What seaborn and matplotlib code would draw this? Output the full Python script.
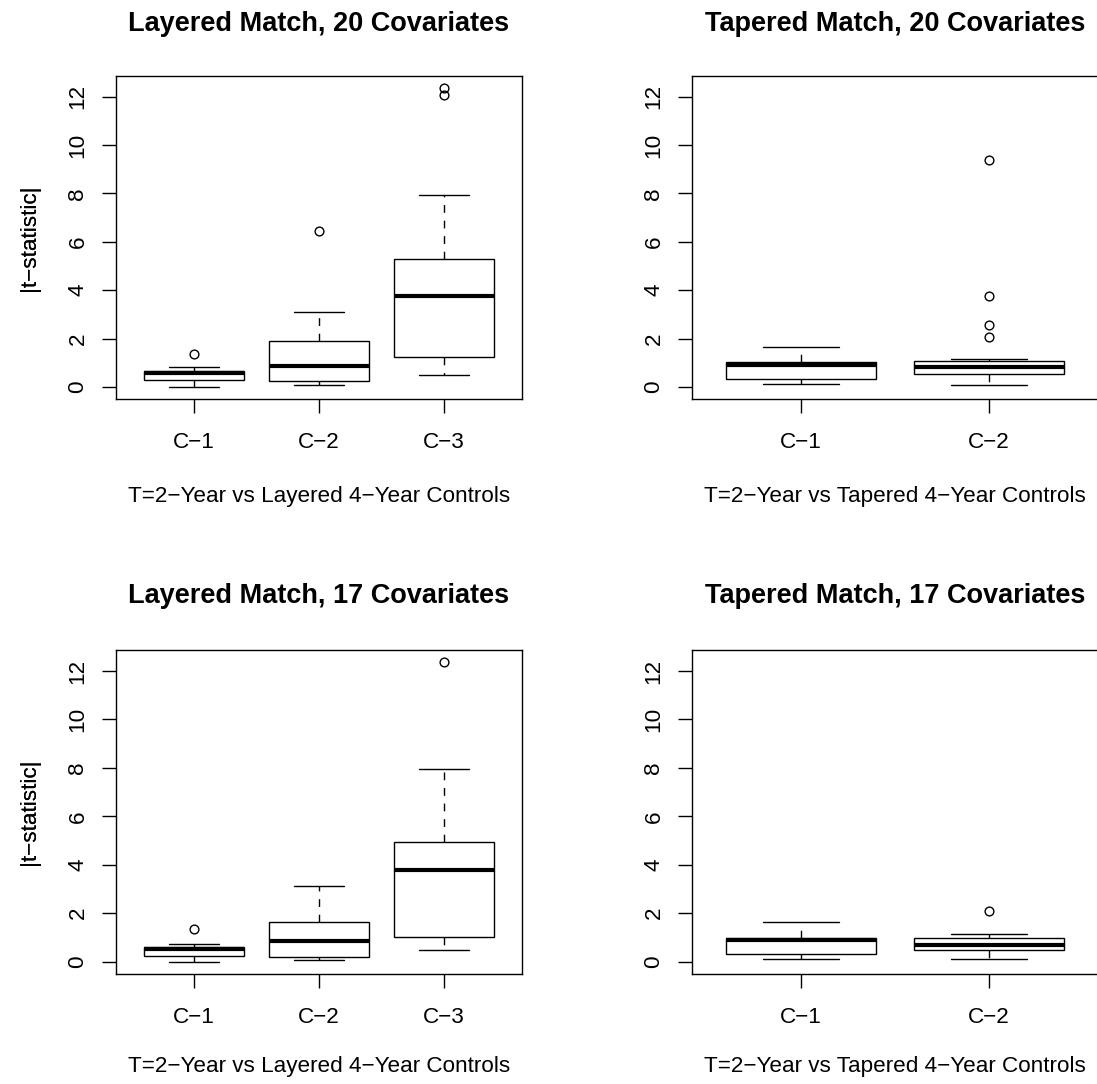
import numpy as np
import pandas as pd
import matplotlib
matplotlib.use("Agg")
import matplotlib.pyplot as plt
import seaborn as sns

# ---------------- data ----------------
layered_groups = ["C\u22121", "C\u22122", "C\u22123"]
tapered_groups = ["C\u22121", "C\u22122"]

# Layered match, 20 covariates (|t| values per control group)
lay20_c1 = [0.00, 0.12, 0.20, 0.25, 0.29, 0.29, 0.38, 0.45, 0.52, 0.57,
            0.57, 0.60, 0.62, 0.64, 0.66, 0.66, 0.70, 0.75, 0.81, 1.35]
lay20_c2 = [0.10, 0.14, 0.18, 0.22, 0.25, 0.25, 0.38, 0.52, 0.70, 0.85,
            0.85, 1.02, 1.25, 1.55, 1.90, 1.90, 2.20, 2.65, 3.11, 6.43]
lay20_c3 = [0.51, 0.75, 0.95, 1.10, 1.22, 1.22, 1.90, 2.60, 3.20, 3.78,
            3.78, 4.10, 4.45, 4.90, 5.29, 5.29, 6.10, 7.93, 12.05, 12.36]

# Tapered match, 20 covariates
tap20_c1 = [0.12, 0.18, 0.24, 0.30, 0.34, 0.34, 0.50, 0.68, 0.82, 0.93,
            0.93, 0.96, 0.98, 1.00, 1.02, 1.02, 1.15, 1.35, 1.50, 1.65]
tap20_c2 = [0.10, 0.28, 0.40, 0.48, 0.52, 0.52, 0.60, 0.68, 0.75, 0.81,
            0.81, 0.88, 0.95, 1.02, 1.07, 1.15, 2.08, 2.58, 3.78, 9.37]

# Layered match, 17 covariates
lay17_c1 = [0.00, 0.10, 0.16, 0.21, 0.25, 0.33, 0.41, 0.47, 0.52, 0.55,
            0.58, 0.60, 0.62, 0.66, 0.70, 0.74, 1.35]
lay17_c2 = [0.08, 0.11, 0.14, 0.18, 0.21, 0.35, 0.52, 0.70, 0.84, 0.98,
            1.15, 1.40, 1.65, 1.95, 2.30, 2.70, 3.11]
lay17_c3 = [0.50, 0.68, 0.80, 0.92, 1.02, 1.60, 2.30, 3.10, 3.78, 4.00,
            4.25, 4.60, 4.92, 5.40, 6.20, 7.96, 12.37]

# Tapered match, 17 covariates
tap17_c1 = [0.11, 0.16, 0.22, 0.27, 0.32, 0.45, 0.62, 0.80, 0.91, 0.93,
            0.95, 0.97, 0.99, 1.10, 1.28, 1.45, 1.64]
tap17_c2 = [0.10, 0.22, 0.32, 0.40, 0.48, 0.55, 0.60, 0.66, 0.70, 0.75,
            0.82, 0.90, 0.99, 1.04, 1.10, 1.16, 2.08]

titles = ["Layered Match, 20 Covariates", "Tapered Match, 20 Covariates",
          "Layered Match, 17 Covariates", "Tapered Match, 17 Covariates"]
xlabels = ["T=2\u2212Year vs Layered 4\u2212Year Controls",
           "T=2\u2212Year vs Tapered 4\u2212Year Controls",
           "T=2\u2212Year vs Layered 4\u2212Year Controls",
           "T=2\u2212Year vs Tapered 4\u2212Year Controls"]
ylabel = "|t\u2212statistic|"
yticks = [0, 2, 4, 6, 8, 10, 12]

panel_data = [
    (layered_groups, [lay20_c1, lay20_c2, lay20_c3]),
    (tapered_groups, [tap20_c1, tap20_c2]),
    (layered_groups, [lay17_c1, lay17_c2, lay17_c3]),
    (tapered_groups, [tap17_c1, tap17_c2]),
]

# ---------------- style / layout ----------------
sns.set_style("white")
plt.rcParams["font.family"] = ["Liberation Sans", "DejaVu Sans"]
plt.rcParams["text.color"] = "black"
plt.rcParams["axes.labelcolor"] = "black"
plt.rcParams["xtick.color"] = "black"
plt.rcParams["ytick.color"] = "black"
plt.rcParams["axes.edgecolor"] = "black"

W, H = 1097, 1084
DPI = 100
fig = plt.figure(figsize=(W / DPI, H / DPI), dpi=DPI)

BASE_FS = 16.2
TITLE_FS = 19.5
LW = 1.0

# pixel layout: (left, top, bottom) of each plotting frame
col_left = [116, 692]
row_top = [75.7, 650.0]
row_bot = [399.0, 973.7]
frame_w = 406
title_base = [31.0, 603.0]
xlab_base = [501.7, 1071.7]
ylab_center_x = 29.0

for i, (groups, vals) in enumerate(panel_data):
    r, c = divmod(i, 2)
    left, top, bot = col_left[c], row_top[r], row_bot[r]
    ax = fig.add_axes([left / W, 1 - bot / H, frame_w / W, (bot - top) / H])

    df = pd.DataFrame({
        "group": np.repeat(groups, [len(v) for v in vals]),
        "value": np.concatenate(vals),
    })
    sns.boxplot(
        data=df, x="group", y="value", order=groups, ax=ax,
        width=0.8, color="white", linecolor="black", linewidth=LW,
        whis=1.5, fliersize=6.3,
        flierprops=dict(marker="o", markerfacecolor="none",
                        markeredgecolor="black", markeredgewidth=LW),
        medianprops=dict(linewidth=3.0, color="black", solid_capstyle="butt"),
        whiskerprops=dict(linestyle=(0, (5.6, 5.6)), color="black",
                          linewidth=LW),
        capprops=dict(color="black", linewidth=LW),
        boxprops=dict(edgecolor="black", facecolor="white", linewidth=LW),
    )

    n = len(groups)
    ax.set_xlim(-0.5 - 0.04 * n, n - 0.5 + 0.04 * n)
    ax.set_ylim(-0.495, 12.865)
    ax.set_yticks(yticks)
    ax.set_yticklabels([str(t) for t in yticks])

    for sp in ax.spines.values():
        sp.set_visible(True)
        sp.set_color("black")
        sp.set_linewidth(LW)

    ax.tick_params(axis="both", direction="out", length=9.8, width=LW,
                   color="black", labelsize=BASE_FS, labelcolor="black",
                   bottom=True, left=True)
    ax.tick_params(axis="x", pad=14)
    ax.tick_params(axis="y", pad=10.0, labelrotation=90)
    for lab in ax.get_yticklabels():
        lab.set_va("center")

    hpx = bot - top
    ax.set_title(titles[i], fontsize=TITLE_FS, fontweight="bold",
                 y=(bot - title_base[r]) / hpx, pad=0, va="baseline",
                 color="black")
    ax.set_xlabel(xlabels[i], fontsize=BASE_FS, color="black")
    ax.xaxis.set_label_coords(0.5, (bot - xlab_base[r]) / hpx)
    ax.xaxis.label.set_va("baseline")
    ax.set_ylabel(ylabel, fontsize=BASE_FS, color="black")
    ax.yaxis.set_label_coords((ylab_center_x - left) / frame_w, 0.5)
    ax.yaxis.label.set_va("center")
    ax.grid(False)

fig.savefig("out.png", dpi=DPI, facecolor="white")
